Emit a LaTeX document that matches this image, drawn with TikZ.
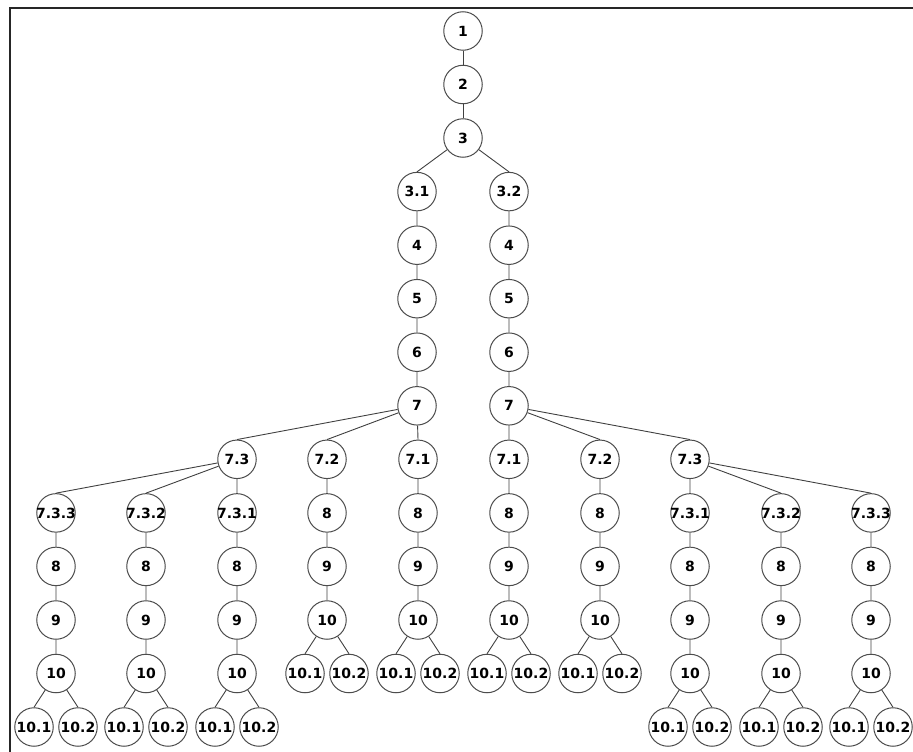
\documentclass[tikz,border=0pt]{standalone}
\usepackage{fontspec}
\setmainfont{DejaVu Sans}
\newcommand\nodetxt[1]{\makebox[0pt]{#1}}
\begin{document}
\begin{tikzpicture}[x=1pt,y=-1pt,
  nd/.style={circle,draw=black!70,line width=1pt,fill=white,minimum size=38.5pt,inner sep=0pt,
    font=\fontsize{14}{16}\selectfont\bfseries},
  ed/.style={draw=black!75,line width=0.9pt},
  frame/.style={draw=black!85,line width=1.2pt}]
\useasboundingbox (0,0) rectangle (913,752);
\coordinate (fbl) at (10,752);
\coordinate (ftl) at (10,8);
\coordinate (ftr) at (913,8);
\draw[frame] (fbl) -- (ftl) -- (ftr);

% trunk
\node[nd] (n1) at (463,31) {\nodetxt{1}};
\node[nd] (n2) at (463,84.5) {\nodetxt{2}};
\node[nd] (n3) at (463,138) {\nodetxt{3}};
\draw[ed] (n1) -- (n2.north) (n2) -- (n3.north);

% two main branches
\foreach \s/\x/\lab in {L/417/3.1, R/509/3.2} {
  \node[nd] (\s31) at (\x,191.6) {\nodetxt{\lab}};
  \node[nd] (\s4) at (\x,245.2) {\nodetxt{4}};
  \node[nd] (\s5) at (\x,298.7) {\nodetxt{5}};
  \node[nd] (\s6) at (\x,352.2) {\nodetxt{6}};
  \node[nd] (\s7) at (\x,405.8) {\nodetxt{7}};
  \draw[ed] (n3) -- (\s31.north) (\s31) -- (\s4.north) (\s4) -- (\s5.north)
            (\s5) -- (\s6.north) (\s6) -- (\s7.north);
}

\node[nd] (L73) at (237,459.3) {\nodetxt{7.3}};
\node[nd] (R73) at (690,459.3) {\nodetxt{7.3}};
\draw[ed] (L7) -- (L73.north) (R7) -- (R73.north);

% deep chains under 7.3.x
\foreach \p/\x/\lab in {a/56/7.3.3, b/146/7.3.2, c/237/7.3.1, d/690/7.3.1, e/781/7.3.2, f/871/7.3.3} {
  \node[nd] (\p0) at (\x,512.9) {\nodetxt{\lab}};
  \node[nd] (\p8) at (\x,566.4) {\nodetxt{8}};
  \node[nd] (\p9) at (\x,620) {\nodetxt{9}};
  \node[nd] (\p10) at (\x,673.5) {\nodetxt{10}};
  \node[nd] (\p11) at (\x-22,727) {\nodetxt{10.1}};
  \node[nd] (\p12) at (\x+22,727) {\nodetxt{10.2}};
  \draw[ed] (\p0) -- (\p8.north) (\p8) -- (\p9.north) (\p9) -- (\p10.north)
            (\p10) -- (\p11.north) (\p10) -- (\p12.north);
}
\draw[ed] (L73) -- (a0.north) (L73) -- (b0.north) (L73) -- (c0.north);
\draw[ed] (R73) -- (d0.north) (R73) -- (e0.north) (R73) -- (f0.north);

% short chains under 7.1 / 7.2
\foreach \p/\x/\lab in {g/327/7.2, h/418/7.1, i/509/7.1, j/600/7.2} {
  \node[nd] (\p0) at (\x,459.3) {\nodetxt{\lab}};
  \node[nd] (\p8) at (\x,512.9) {\nodetxt{8}};
  \node[nd] (\p9) at (\x,566.4) {\nodetxt{9}};
  \node[nd] (\p10) at (\x,620) {\nodetxt{10}};
  \node[nd] (\p11) at (\x-22,673.5) {\nodetxt{10.1}};
  \node[nd] (\p12) at (\x+22,673.5) {\nodetxt{10.2}};
  \draw[ed] (\p0) -- (\p8.north) (\p8) -- (\p9.north) (\p9) -- (\p10.north)
            (\p10) -- (\p11.north) (\p10) -- (\p12.north);
}
\draw[ed] (L7) -- (g0.north) (L7) -- (h0.north);
\draw[ed] (R7) -- (i0.north) (R7) -- (j0.north);
\end{tikzpicture}
\end{document}
